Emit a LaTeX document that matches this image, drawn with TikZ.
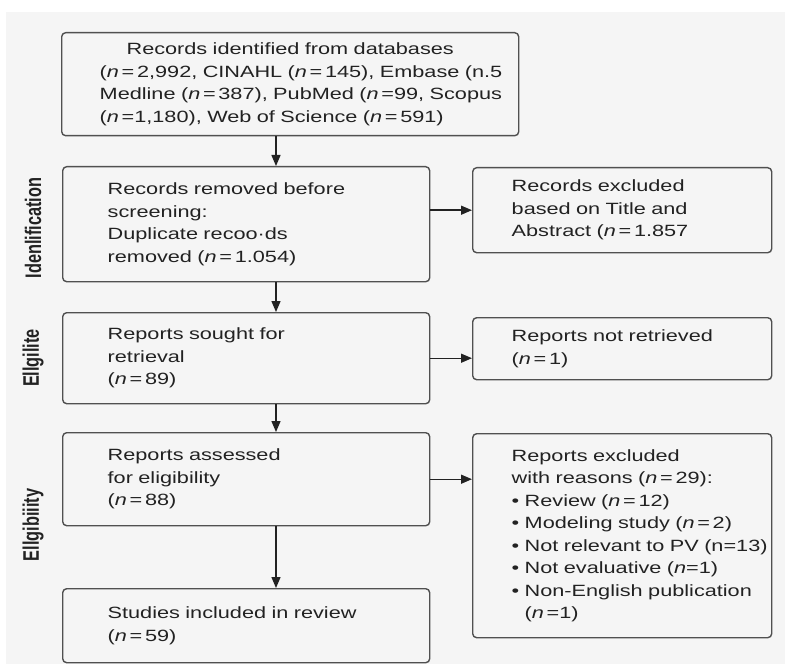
\documentclass[tikz,border=0pt]{standalone}
\usepackage{fontspec}
\setmainfont{Liberation Sans}[FakeStretch=1.33]
\newfontfamily\phasefont{Liberation Sans}
\usepackage{graphicx}
\usetikzlibrary{arrows.meta}
\usepackage{xcolor}

\definecolor{bggrey}{HTML}{F5F5F5}
\definecolor{edgegrey}{HTML}{505050}
\definecolor{inkgrey}{HTML}{222222}

\begin{document}
\begin{tikzpicture}[x=1pt,y=-1pt]

	\tikzstyle{stagebox}=[draw=edgegrey,line width=1.4pt,rounded corners=4pt,fill=bggrey,text=inkgrey,anchor=north west,align=left,inner xsep=16pt,font=\fontsize{16.3}{22.5}\selectfont]
	\tikzstyle{mainbox}=[stagebox,text width=335pt,execute at begin node={\leftskip=29pt\rightskip=-60pt plus 1fil}]
	\tikzstyle{sidebox}=[stagebox,text width=267pt,execute at begin node={\leftskip=23pt\rightskip=-60pt plus 1fil}]
	\tikzstyle{phase}=[rotate=90,text=inkgrey,font=\phasefont\fontsize{16.3}{20}\selectfont\bfseries]
	\tikzstyle{flow}=[draw=inkgrey,line width=1.4pt,-{Triangle[length=11pt,width=9pt]}]

	% canvas
	\fill[white] (0,0) rectangle (785,666);
	\fill[bggrey] (6,12) rectangle (785,664);
	\useasboundingbox (0,0) rectangle (785,666);

	\node[stagebox,text width=425pt,minimum height=103pt,execute at begin node={\leftskip=22pt\rightskip=-60pt plus 1fil}] (recsFound) at (61,32) {\makebox[381pt]{Records identified from databases}\\(\textit{n}\,=\,2,992, CINAHL (\textit{n}\,=\,145), Embase (n.5\\Medline (\textit{n}\,=\,387), PubMed (\textit{n}\,=99, Scopus\\(\textit{n}\,=1,180), Web of Science (\textit{n}\,=\,591)};

	\node[mainbox,minimum height=115pt] (recsRemoved) at (62,166) {Records removed before\\screening:\\Duplicate recoo·ds\\removed (\textit{n}\,=\,1.054)};
	\node[mainbox,minimum height=91pt] (rptSought) at (62,312) {Reports sought for\\retrieval\\(\textit{n}\,=\,89)};
	\node[mainbox,minimum height=93pt] (rptAssessed) at (62,432) {Reports assessed\\for eligibility\\(\textit{n}\,=\,88)};
	\node[mainbox,minimum height=74pt] (included) at (62,588) {Studies included in review\\(\textit{n}\,=\,59)};

	\node[sidebox,minimum height=85pt] (recsExcluded) at (472,167) {Records excluded\\based on Title and\\Abstract (\textit{n}\,=\,1.857};
	\node[sidebox,minimum height=62pt] (rptNotRetr) at (472,317) {Reports not retrieved\\(\textit{n}\,=\,1)};
	\node[sidebox,minimum height=204pt] (rptExcluded) at (472,433) {Reports excluded\\with reasons (\textit{n}\,=\,29):\\• Review (\textit{n}\,=\,12)\\• Modeling study (\textit{n}\,=\,2)\\• Not relevant to PV (n=13)\\• Not evaluative (\textit{n}=1)\\• Non-English publication\\\phantom{• }(\textit{n}\,=1)};

	\node[phase] (idLabel) at (33,228) {\scalebox{1}[1.38]{Idenlification}};
	\node[phase] (soughtLabel) at (33,358) {\scalebox{1}[1.38]{Ellgilite}};
	\node[phase] (eligLabel) at (33,525) {\scalebox{1}[1.38]{Ellgibiiity}};

	\coordinate (spine) at (276,0);

	\draw[flow] (recsFound.south -| spine) -- (recsRemoved.north -| spine);
	\draw[flow] (recsRemoved.south -| spine) -- (rptSought.north -| spine);
	\draw[flow] (rptSought.south -| spine) -- (rptAssessed.north -| spine);
	\draw[flow] (rptAssessed.south -| spine) -- (included.north -| spine);

	\draw[flow] (recsRemoved.east |- recsExcluded.west) -- (recsExcluded.west);
	\draw[flow] (rptSought.east) -- (rptSought.east -| rptNotRetr.west);
	\draw[flow] (rptAssessed.east) -- (rptAssessed.east -| rptExcluded.west);

\end{tikzpicture}
\end{document}
